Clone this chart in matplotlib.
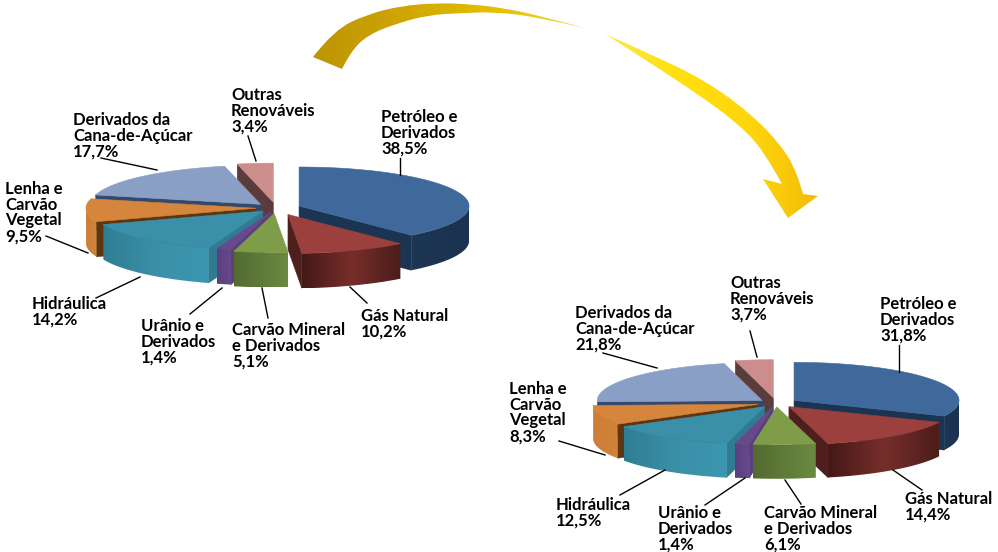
import numpy as np
import matplotlib
matplotlib.use("Agg")
import matplotlib.pyplot as plt
from matplotlib.patches import Polygon, PathPatch
from matplotlib.path import Path
from matplotlib.colors import LinearSegmentedColormap

plt.rcParams['font.family'] = ['Lato', 'DejaVu Sans']

categories = ["Petróleo e\nDerivados", "Gás Natural", "Carvão Mineral\ne Derivados", "Urânio e\nDerivados",
              "Hidráulica", "Lenha e\nCarvão\nVegetal", "Derivados da\nCana-de-Açúcar", "Outras\nRenováveis"]
values_left = [38.5, 10.2, 5.1, 1.4, 14.2, 9.5, 17.7, 3.4]
values_right = [31.8, 14.4, 6.1, 1.4, 12.5, 8.3, 21.8, 3.7]
labels_left = ["38,5%", "10,2%", "5,1%", "1,4%", "14,2%", "9,5%", "17,7%", "3,4%"]
labels_right = ["31,8%", "14,4%", "6,1%", "1,4%", "12,5%", "8,3%", "21,8%", "3,7%"]

explode_left = [.145, .18, .14, .10, .11, .118, .13, .15]
explode_right = [.13, .123, .10, .10, .12, .114, .105, .14]

top_colors = ["#40699B", "#9B403D", "#7F9C49", "#68498C", "#3A90A9", "#D5853C", "#8A9FC5", "#CC8D8B"]
wall_colors = ["#1B3452", "#4E1F1C", "#5F7A36", "#5A3F7C", "#2F7C92", "#5C3610", "#34496B", "#5A3C3C"]
side_stops = [["#1D3654", "#1B3350"], ["#441917", "#772E2A", "#4B1D1A"], ["#536B31", "#6B8A41"],
              ["#5A3F7E", "#674A8B"], ["#2F7D93", "#3B90A8", "#3A97B0"], ["#CE7E36", "#D2833A"],
              ["#6F86AA", "#6F86AA"], ["#B07A78", "#B07A78"]]

fig = plt.figure(figsize=(9.98, 5.52), dpi=100)
ax = fig.add_axes([0, 0, 1, 1])
z = [2.0]


def nextz():
    z[0] += 0.01
    return z[0]


def gradient_fill(path, colors, extent, zorder, vertical=False):
    cmap = LinearSegmentedColormap.from_list("g", colors)
    grad = np.linspace(0, 1, 256).reshape(1, -1)
    if vertical:
        grad = grad.T
    im = ax.imshow(grad, cmap=cmap, extent=extent, aspect='auto', zorder=zorder, origin='upper',
                   interpolation='bilinear')
    p = PathPatch(path, fc='none', ec='none', transform=ax.transData)
    ax.add_patch(p)
    im.set_clip_path(p)


def draw_pie(vals, expl, cx, cy, rx, ry, depth):
    v = np.array(vals, float)
    edges = np.concatenate([[0], np.cumsum(v / v.sum() * 360)])
    mids = (edges[:-1] + edges[1:]) / 2
    for i in np.argsort(-np.cos(np.radians(mids))):
        t0, t1 = edges[i], edges[i + 1]
        b = np.radians(mids[i])
        ax0 = cx + rx * expl[i] * np.sin(b)
        ay0 = cy - ry * expl[i] * np.cos(b)
        th = np.radians(np.linspace(t0, t1, 120))
        xs = ax0 + rx * np.sin(th)
        ys = ay0 - ry * np.cos(th)
        for px, py, vis in ((xs[0], ys[0], np.sin(np.radians(t0)) < -1e-6),
                            (xs[-1], ys[-1], np.sin(np.radians(t1)) > 1e-6)):
            if vis:
                ax.add_patch(Polygon([(ax0, ay0), (px, py), (px, py + depth), (ax0, ay0 + depth)],
                                     closed=True, fc=wall_colors[i], ec=wall_colors[i], lw=.4, zorder=nextz()))
        front = np.cos(th) <= 0.02
        if front.sum() > 1:
            fx, fy = xs[front], ys[front]
            verts = np.vstack([np.column_stack([fx, fy]), np.column_stack([fx[::-1], fy[::-1] + depth]), [fx[0], fy[0]]])
            left, right = fx.min(), fx.max()
            gradient_fill(Path(verts), side_stops[i], (left, right, fy.max() + depth, fy.min()), nextz())
        ax.add_patch(Polygon(np.vstack([[ax0, ay0], np.column_stack([xs, ys])]), closed=True,
                             fc=top_colors[i], ec=top_colors[i], lw=.4, zorder=nextz()))


draw_pie(values_left, explode_left, 276, 208, 170, 39, 35)
draw_pie(values_right, explode_right, 776, 403, 165, 38, 34)


def smooth_path(runs):
    """Each run is a smooth curve; runs are joined by straight corners."""
    verts, codes = [], []
    for n, run in enumerate(runs):
        run = np.array(run, float)
        if n == 0:
            verts.append(run[0]); codes.append(Path.MOVETO)
        else:
            verts.append(run[0]); codes.append(Path.LINETO)
        for j in range(1, len(run) - 1):
            end = run[-1] if j == len(run) - 2 else (run[j] + run[j + 1]) / 2
            verts += [run[j], end]
            codes += [Path.CURVE3, Path.CURVE3]
    verts.append(verts[0]); codes.append(Path.CLOSEPOLY)
    return Path(verts, codes)


arrow_a_outer = [(313, 57), (334, 30), (368, 14), (401, 6), (435, 3), (469, 4), (503, 8), (537, 15), (585, 28)]
arrow_a_inner = [(585, 28), (537, 17), (496, 12), (462, 13), (428, 15), (395, 24), (368, 35), (351, 51), (342, 69)]
arrow_b_outer = [(605, 34), (655, 56), (706, 81), (750, 113), (781, 145), (797, 172), (803, 194)]
arrow_b_head = [(803, 194), (818, 196), (788, 218), (763, 179), (782, 184)]
arrow_b_inner = [(782, 184), (763, 149), (736, 122), (699, 95), (655, 66), (605, 34)]

gradient_fill(smooth_path([arrow_a_outer, arrow_a_inner]),
              ["#BD9404", "#CFA602", "#E3C000", "#EFD84A"], (313, 585, 70, 0), 1.5)
head_segments = [[arrow_b_head[k], arrow_b_head[k + 1], arrow_b_head[k + 1]] for k in range(len(arrow_b_head) - 1)]
gradient_fill(smooth_path([arrow_b_outer] + head_segments + [arrow_b_inner]),
              ["#FBEA50", "#FFE010", "#FFD60C", "#F3BC08"], (605, 818, 218, 34), 1.5)

leaders = [((400, 158), (400, 175)), ((350, 287), (367, 303)), ((262, 288), (268, 318)), ((222, 288), (190, 314)),
           ((140, 277), (96, 298)), ((88, 253), (46, 236)), ((157, 170), (101, 158)), ((256, 161), (248, 136)),
           ((899, 345), (899, 372)), ((893, 470), (922, 490)), ((785, 480), (801, 504)), ((745, 478), (705, 505)),
           ((665, 470), (620, 495)), ((605, 455), (559, 441)), ((657, 368), (603, 353)), ((757, 357), (750, 331))]
for a, b in leaders:
    ax.plot([a[0], b[0]], [a[1], b[1]], color="black", lw=1, zorder=3)

label_pos_left = [(381, 109), (361, 308), (232, 322), (141, 318), (32, 296), (5, 181), (73, 112), (231, 87)]
label_pos_right = [(880, 296), (905, 491), (764, 505), (658, 505), (556, 497), (509, 381), (575, 305), (730, 275)]
for pos_list, lab_list in ((label_pos_left, labels_left), (label_pos_right, labels_right)):
    for (x, y), cat, lab in zip(pos_list, categories, lab_list):
        ax.text(x, y, cat + "\n" + lab, fontsize=12, color="black", weight="bold", linespacing=0.98,
                va="top", ha="left", zorder=4)

ax.set_xlim(0, 998)
ax.set_ylim(552, 0)
ax.axis("off")
fig.savefig("out.png", dpi=100, facecolor="white")
